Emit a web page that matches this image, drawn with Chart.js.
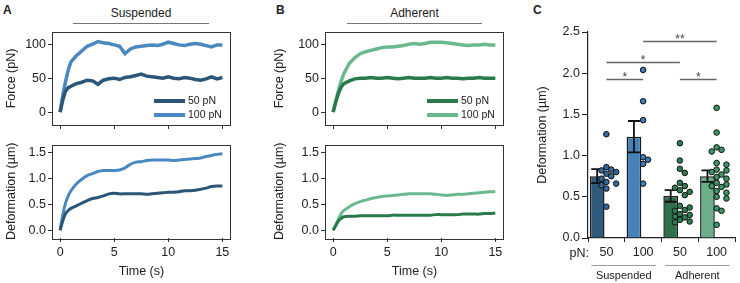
<!DOCTYPE html>
<html>
<head>
<meta charset="utf-8">
<script src="https://cdn.jsdelivr.net/npm/chart.js@4.4.0/dist/chart.umd.min.js"></script>
<style>
    body { margin: 0; background: #fff; width: 740px; height: 283px; position: relative; overflow: hidden; font-family: "Liberation Sans", Arial, sans-serif; color: #222; }
    canvas { position: absolute; }
    .tag { position: absolute; font-weight: bold; font-size: 12px; line-height: 14px; }
    .head { position: absolute; top: 6px; font-size: 12px; line-height: 14px; text-align: center; padding-bottom: 3px; border-bottom: 1.5px solid #777; }
</style>
</head>
<body>
<div class="tag" style="left:3px;top:3px">A</div>
<div class="tag" style="left:276px;top:3px">B</div>
<div class="tag" style="left:533px;top:3px">C</div>
<div class="head" style="left:73px;width:136px">Suspended</div>
<div class="head" style="left:347px;width:135px">Adherent</div>

<canvas id="aForce" width="240" height="135" style="left:0;top:0"></canvas>
<canvas id="aDef" width="240" height="148" style="left:0;top:135px"></canvas>
<canvas id="bForce" width="245" height="135" style="left:268px;top:0"></canvas>
<canvas id="bDef" width="245" height="148" style="left:268px;top:135px"></canvas>
<canvas id="cBar" width="220" height="283" style="left:520px;top:0"></canvas>

<script>
// time traces (s)
const timeS = [0, 0.25, 0.5, 0.75, 1, 1.5, 2, 2.5, 3, 3.5, 4, 4.5, 5, 5.5, 6, 6.5, 7, 7.5, 8, 8.5, 9, 9.5, 10, 10.5, 11, 11.5, 12, 12.5, 13, 13.5, 14, 14.5, 15];
const timeTicks = [0, 5, 10, 15];
const forceTicks = [0, 50, 100];
const defTicks = [0, 0.5, 1.0, 1.5];

// suspended cells
const susForce50 = [0, 18, 31, 36, 38, 42, 44, 47, 46, 41, 47, 49, 50, 48, 51, 52, 54, 56, 53, 52, 51, 50, 52, 50, 49, 51, 50, 48, 47, 49, 52, 49, 51];
const susForce100 = [0, 25, 45, 62, 74, 83, 90, 97, 100, 104, 102, 101, 99, 97, 86, 93, 96, 97, 98, 99, 98, 100, 103, 101, 99, 98, 100, 101, 100, 98, 96, 99, 99];
const susDef50 = [0, 0.18, 0.32, 0.38, 0.42, 0.47, 0.52, 0.57, 0.61, 0.63, 0.66, 0.70, 0.71, 0.70, 0.70, 0.70, 0.70, 0.70, 0.69, 0.70, 0.71, 0.72, 0.73, 0.73, 0.74, 0.76, 0.76, 0.77, 0.79, 0.81, 0.84, 0.85, 0.85];
const susDef100 = [0, 0.30, 0.52, 0.66, 0.76, 0.89, 0.98, 1.05, 1.09, 1.13, 1.15, 1.15, 1.15, 1.16, 1.20, 1.27, 1.31, 1.32, 1.34, 1.35, 1.35, 1.35, 1.35, 1.34, 1.35, 1.36, 1.37, 1.38, 1.39, 1.42, 1.44, 1.46, 1.47];

// adherent cells
const adhForce50 = [0, 15, 28, 37, 42, 46, 49, 50, 50, 51, 50, 50, 51, 50, 49, 50, 51, 50, 50, 50, 51, 50, 50, 51, 50, 50, 49, 50, 50, 51, 50, 50, 50];
const adhForce100 = [0, 17, 32, 46, 57, 72, 80, 86, 89, 91, 93, 95, 96, 96, 97, 98, 100, 101, 100, 101, 103, 103, 103, 102, 101, 100, 99, 98, 99, 99, 100, 99, 99];
const adhDef50 = [0, 0.09, 0.18, 0.23, 0.26, 0.27, 0.27, 0.28, 0.28, 0.28, 0.28, 0.28, 0.28, 0.29, 0.29, 0.29, 0.29, 0.29, 0.29, 0.29, 0.29, 0.30, 0.30, 0.30, 0.30, 0.30, 0.31, 0.31, 0.31, 0.31, 0.32, 0.32, 0.33];
const adhDef100 = [0, 0.10, 0.22, 0.32, 0.38, 0.45, 0.51, 0.55, 0.58, 0.61, 0.63, 0.65, 0.66, 0.67, 0.68, 0.69, 0.70, 0.70, 0.70, 0.70, 0.70, 0.69, 0.68, 0.67, 0.68, 0.69, 0.69, 0.70, 0.71, 0.72, 0.73, 0.74, 0.74];

// panel C
const pnLabels = ['50', '100', '50', '100'];
const groupNames = ['Suspended', 'Adherent'];
const deformMean = [0.75, 1.23, 0.51, 0.75];
const deformSem = [0.085, 0.19, 0.07, 0.07];
const sus50Pts = [1.26, 0.86, 0.83, 0.82, 0.80, 0.78, 0.75, 0.72, 0.68, 0.66, 0.64, 0.60, 0.38];
const sus100Pts = [2.04, 1.66, 1.43, 0.98, 0.95, 0.90, 0.66];
const adh50Pts = [1.15, 0.94, 0.84, 0.79, 0.67, 0.63, 0.61, 0.58, 0.56, 0.52, 0.39, 0.37, 0.34, 0.33, 0.29, 0.28, 0.26, 0.25, 0.22, 0.20, 0.19];
const adh100Pts = [1.58, 1.28, 1.10, 1.07, 1.05, 0.91, 0.89, 0.83, 0.82, 0.80, 0.77, 0.74, 0.72, 0.67, 0.65, 0.63, 0.62, 0.57, 0.55, 0.50, 0.48, 0.36, 0.33, 0.16];
const sigPairs = [[0, 1], [0, 2], [1, 3], [2, 3]];
const sigLevels = [1.93, 2.14, 2.39, 1.93];
const sigMarks = ['*', '*', '**', '*'];

const FONT = '"Liberation Sans", Arial, sans-serif';
Chart.defaults.font.family = FONT;
Chart.defaults.font.size = 12;
Chart.defaults.color = '#222';

const framePlugin = {
    id: 'frame',
    afterDraw(chart) {
        const a = chart.chartArea, ctx = chart.ctx;
        ctx.save();
        ctx.strokeStyle = '#333';
        ctx.lineWidth = 1;
        ctx.strokeRect(Math.round(a.left) + 0.5, Math.round(a.top) + 0.5, Math.round(a.right - a.left) - 1, Math.round(a.bottom - a.top));
        ctx.restore();
    }
};

const insideLegend = {
    id: 'insideLegend',
    afterDraw(chart) {
        const a = chart.chartArea, ctx = chart.ctx;
        ctx.save();
        chart.data.datasets.forEach((ds, i) => {
            const y = a.top + 69 + i * 14;
            ctx.strokeStyle = ds.borderColor;
            ctx.lineWidth = 4;
            ctx.beginPath();
            ctx.moveTo(a.right - 77, y);
            ctx.lineTo(a.right - 46, y);
            ctx.stroke();
            ctx.fillStyle = '#222';
            ctx.font = '10.5px ' + FONT;
            ctx.textBaseline = 'middle';
            ctx.fillText(ds.label, a.right - 43, y + 0.5);
        });
        ctx.restore();
    }
};

function traceChart(id, cfg) {
    return new Chart(document.getElementById(id), {
        type: 'line',
        data: {
            datasets: cfg.series.map(s => ({
                label: s.label,
                data: timeS.map((t, i) => ({ x: t, y: s.values[i] })),
                borderColor: s.color,
                borderWidth: cfg.lineWidth,
                pointRadius: 0,
                tension: cfg.tension,
                fill: false
            }))
        },
        options: {
            responsive: false,
            animation: false,
            layout: { padding: cfg.padding },
            plugins: { legend: { display: false }, tooltip: { enabled: false } },
            scales: {
                x: {
                    type: 'linear', min: -0.75, max: 15.8,
                    afterBuildTicks: s => { s.ticks = timeTicks.map(v => ({ value: v })); },
                    afterFit: s => { s.height = cfg.xHeight; },
                    grid: { drawOnChartArea: false, tickLength: 4, color: '#333' },
                    border: { display: false },
                    ticks: { display: cfg.showTime, padding: 3, maxRotation: 0, font: { size: 12.5 } },
                    title: { display: cfg.showTime, text: 'Time (s)', font: { size: 12.5 }, padding: { top: 0, bottom: 4 } }
                },
                y: {
                    min: cfg.yMin, max: cfg.yMax,
                    afterBuildTicks: s => { s.ticks = cfg.yTicks.map(v => ({ value: v })); },
                    afterFit: s => { s.width = cfg.yWidth; },
                    grid: { drawOnChartArea: false, tickLength: 4, color: '#333' },
                    border: { display: false },
                    ticks: { padding: 2, font: { size: 12.5 }, callback: cfg.fmt },
                    title: { display: true, text: cfg.yTitle, font: { size: 12.5 }, padding: { top: 4, bottom: 0 } }
                }
            }
        },
        plugins: cfg.legend ? [framePlugin, insideLegend] : [framePlugin]
    });
}

const blueDark = '#2c5678', blueLight = '#4a88c1';
const greenDark = '#2a7a4c', greenLight = '#6ab98e';

const forceBase = { yMin: -19, yMax: 118, yTicks: forceTicks, yTitle: 'Force (pN)', xHeight: 10, showTime: false, lineWidth: 3.5, tension: 0, legend: true, fmt: v => v };
const defBase = { yMin: -0.15, yMax: 1.65, yTicks: defTicks, yTitle: 'Deformation (µm)', xHeight: 45, showTime: true, lineWidth: 3, tension: 0.3, legend: false, fmt: v => v.toFixed(1) };

traceChart('aForce', Object.assign({}, forceBase, {
    yWidth: 52, padding: { left: 0, top: 32, right: 9, bottom: 0 },
    series: [{ label: '50 pN', values: susForce50, color: blueDark }, { label: '100 pN', values: susForce100, color: blueLight }]
}));
traceChart('aDef', Object.assign({}, defBase, {
    yWidth: 52, padding: { left: 0, top: 9, right: 9, bottom: 0 },
    series: [{ label: '50 pN', values: susDef50, color: blueDark }, { label: '100 pN', values: susDef100, color: blueLight }]
}));
traceChart('bForce', Object.assign({}, forceBase, {
    yWidth: 57, padding: { left: 0, top: 32, right: 9, bottom: 0 },
    series: [{ label: '50 pN', values: adhForce50, color: greenDark }, { label: '100 pN', values: adhForce100, color: greenLight }]
}));
traceChart('bDef', Object.assign({}, defBase, {
    yWidth: 57, padding: { left: 0, top: 9, right: 9, bottom: 0 },
    series: [{ label: '50 pN', values: adhDef50, color: greenDark }, { label: '100 pN', values: adhDef100, color: greenLight }]
}));

// panel C: bars, dots, error bars and brackets
const barColors = ['#2f5a7c', '#4682b8', '#2e7049', '#6aae8a'];
const dotColors = ['#33699a', '#3c7bb4', '#2e7d52', '#3b9566'];
const groupPts = [sus50Pts, sus100Pts, adh50Pts, adh100Pts];

// place dots side by side where they would overlap (beeswarm)
function swarm(vals) {
    const pxPerVal = 82, step = 5, minDist = 5.5;
    const placed = [];
    return vals.map(v => {
        const y = v * pxPerVal;
        for (let k = 0; ; k++) {
            const dx = k === 0 ? 0 : (k % 2 ? 1 : -1) * Math.ceil(k / 2) * step;
            if (placed.every(p => Math.hypot(p.x - dx, p.y - y) >= minDist)) {
                placed.push({ x: dx, y: y });
                return dx;
            }
        }
    });
}

const dotData = [];
const dotFill = [];
groupPts.forEach((pts, g) => {
    const offs = swarm(pts);
    pts.forEach((v, i) => {
        dotData.push({ x: g + offs[i] / 37.5, y: v });
        dotFill.push(dotColors[g]);
    });
});

const errorBars = {
    id: 'errorBars',
    afterDatasetDraw(chart, args) {
        if (args.index !== 0) return;
        const y = chart.scales.y, ctx = chart.ctx;
        ctx.save();
        ctx.strokeStyle = '#111';
        ctx.lineWidth = 1.8;
        args.meta.data.forEach((bar, i) => {
            const top = y.getPixelForValue(deformMean[i] + deformSem[i]);
            const bot = y.getPixelForValue(deformMean[i] - deformSem[i]);
            ctx.beginPath();
            ctx.moveTo(bar.x, top); ctx.lineTo(bar.x, bot);
            ctx.moveTo(bar.x - 6, top); ctx.lineTo(bar.x + 6, top);
            ctx.moveTo(bar.x - 6, bot); ctx.lineTo(bar.x + 6, bot);
            ctx.stroke();
        });
        ctx.restore();
    }
};

const sigBrackets = {
    id: 'sigBrackets',
    afterDraw(chart) {
        const x = chart.scales.x, y = chart.scales.y, ctx = chart.ctx;
        ctx.save();
        ctx.strokeStyle = '#666';
        ctx.lineWidth = 1.3;
        ctx.fillStyle = '#444';
        ctx.font = '12px ' + FONT;
        ctx.textAlign = 'center';
        ctx.textBaseline = 'alphabetic';
        sigPairs.forEach((p, i) => {
            const x1 = x.getPixelForValue(p[0]), x2 = x.getPixelForValue(p[1]);
            const yy = Math.round(y.getPixelForValue(sigLevels[i])) + 0.5;
            ctx.beginPath();
            ctx.moveTo(x1, yy); ctx.lineTo(x2, yy);
            ctx.stroke();
            ctx.fillText(sigMarks[i], (x1 + x2) / 2, yy + 1);
        });
        ctx.restore();
    }
};

const groupLabels = {
    id: 'groupLabels',
    afterDraw(chart) {
        const a = chart.chartArea, x = chart.scales.x, ctx = chart.ctx;
        ctx.save();
        ctx.fillStyle = '#222';
        ctx.font = '12.5px ' + FONT;
        ctx.textBaseline = 'middle';
        ctx.textAlign = 'right';
        ctx.fillText('pN:', a.left + 1, a.bottom + 16);
        ctx.strokeStyle = '#999';
        ctx.lineWidth = 1.2;
        ctx.font = '11px ' + FONT;
        ctx.textAlign = 'center';
        groupNames.forEach((name, g) => {
            const x1 = x.getPixelForValue(g * 2) - 15, x2 = x.getPixelForValue(g * 2 + 1) + 13;
            ctx.beginPath();
            ctx.moveTo(x1, a.bottom + 27.5); ctx.lineTo(x2, a.bottom + 27.5);
            ctx.stroke();
            ctx.fillText(name, (x1 + x2) / 2, a.bottom + 38);
        });
        ctx.restore();
    }
};

new Chart(document.getElementById('cBar'), {
    type: 'bar',
    data: {
        labels: pnLabels,
        datasets: [
            { data: deformMean, xAxisID: 'x', yAxisID: 'y', backgroundColor: barColors, borderColor: '#1b1b1b', borderWidth: 1.5, categoryPercentage: 1, barPercentage: 0.8, order: 2 },
            { type: 'scatter', data: dotData, xAxisID: 'xj', yAxisID: 'y', pointRadius: 2.8, pointBackgroundColor: dotFill, pointBorderColor: '#111', pointBorderWidth: 1, order: 1 }
        ]
    },
    options: {
        responsive: false,
        animation: false,
        layout: { padding: { left: 11, top: 32, right: 2, bottom: 0 } },
        plugins: { legend: { display: false }, tooltip: { enabled: false } },
        scales: {
            x: {
                afterFit: s => { s.height = 45; },
                grid: { drawOnChartArea: false, tickLength: 4, color: '#222' },
                border: { color: '#222', width: 1.2 },
                ticks: { padding: 3, font: { size: 12.5 } }
            },
            xj: { type: 'linear', display: false, offset: false, grid: { offset: false }, min: -0.5, max: 3.5 },
            y: {
                min: 0, max: 2.5,
                afterBuildTicks: s => { s.ticks = [0, 0.5, 1, 1.5, 2, 2.5].map(v => ({ value: v })); },
                afterFit: s => { s.width = 57; },
                grid: { drawOnChartArea: false, tickLength: 6, color: '#222' },
                border: { color: '#222', width: 1.2 },
                ticks: { padding: 2, font: { size: 12.5 }, callback: v => v.toFixed(1) },
                title: { display: true, text: 'Deformation (µm)', font: { size: 12.5 }, padding: { top: 4, bottom: 0 } }
            }
        }
    },
    plugins: [errorBars, sigBrackets, groupLabels]
});
</script>
</body>
</html>
